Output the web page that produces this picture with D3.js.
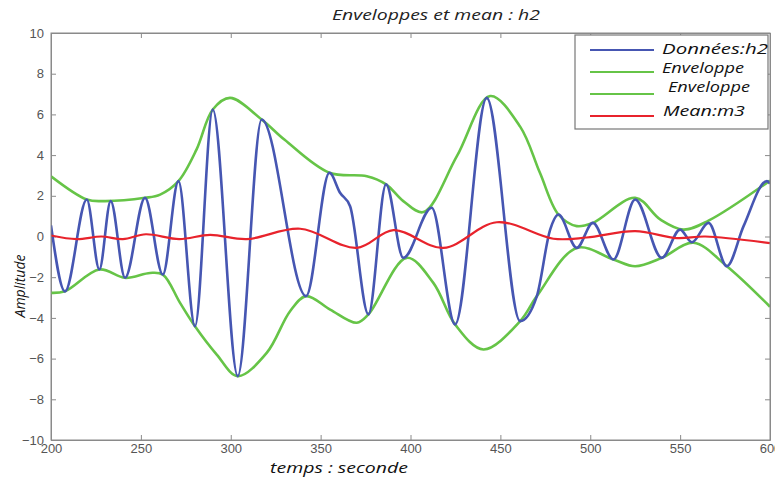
<!DOCTYPE html>
<html><head><meta charset="utf-8">
<script src="https://cdn.jsdelivr.net/npm/d3@7"></script>
<style>
body{margin:0;background:#fff;}
svg{display:block;}
</style></head>
<body>
<svg id="chart" width="775" height="481"></svg>
<script>
// ---- data ----
const dataTime = [200, 207.8, 219.9, 226.9, 233.2, 241.2, 252.3, 262.2, 270.9, 280.1, 290, 303.9, 317.2, 341.9, 354.9, 360.8, 366.4, 376.6, 386.4, 396, 411.8, 424.8, 442.4, 461, 470.3, 477.7, 482.3, 492.5, 501.4, 512.9, 525, 539.8, 550, 556.5, 565.8, 576, 585.3, 598.3, 600];
const dataH2 = [0.55, -2.7, 1.82, -1.62, 1.74, -2.03, 1.9, -1.87, 2.72, -4.41, 6.24, -6.86, 5.75, -2.93, 3.13, 2.15, 1.49, -3.83, 2.56, -1.05, 1.41, -4.32, 6.81, -4.16, -2.93, 0.34, 1.08, -0.56, 0.67, -1.13, 1.82, -1.05, 0.34, -0.28, 0.67, -1.46, 0.51, 2.72, 2.6];

const upperTime = [200, 219.9, 229, 252.3, 260.7, 270.9, 281, 290, 299.6, 317.2, 330, 354.9, 375.7, 386.4, 396, 407.2, 425.8, 444.3, 461, 472, 482.3, 492.5, 501.4, 525, 538.9, 551.9, 565.8, 600];
const upperEnv = [2.96, 1.82, 1.74, 1.9, 2.06, 2.72, 4.28, 6.24, 6.81, 5.75, 4.75, 3.13, 2.96, 2.56, 1.74, 1.2, 3.95, 6.9, 5.4, 3.13, 1.08, 0.51, 0.67, 1.9, 0.84, 0.34, 0.78, 2.75];

const lowerTime = [200, 207.8, 226.9, 241.2, 255.1, 262.2, 271.8, 280.1, 292.2, 303.9, 320, 333, 341.9, 355.3, 370.1, 376.6, 397.9, 412.7, 424.8, 440.6, 461, 470.3, 492.5, 512.9, 525, 539.8, 557.4, 576, 600];
const lowerEnv = [-2.77, -2.69, -1.62, -2.03, -1.79, -1.87, -3.26, -4.41, -5.8, -6.86, -5.72, -3.67, -2.93, -3.59, -4.24, -3.83, -1.05, -2.28, -4.32, -5.55, -4.16, -2.93, -0.56, -1.13, -1.46, -1.05, -0.31, -1.46, -3.45];

const meanTime = [200, 214.3, 228, 240, 252.8, 271.3, 288.5, 308.9, 338.6, 370.1, 390.5, 418.3, 448, 479.5, 498, 525, 548.2, 564, 600];
const meanM3 = [0.05, -0.13, 0, -0.13, 0.11, -0.13, 0.08, -0.13, 0.38, -0.56, 0.31, -0.56, 0.7, -0.11, -0.05, 0.26, -0.08, 0.0, -0.33];

const xTicks = [200, 250, 300, 350, 400, 450, 500, 550, 600];
const yTicks = [-10, -8, -6, -4, -2, 0, 2, 4, 6, 8, 10];
const legendLabels = ["Données:h2", "Enveloppe", " Enveloppe", "Mean:m3"];

// ---- layout ----
const svg = d3.select("#chart");
const L = 51, R = 770, T = 33, B = 440;
const x = d3.scaleLinear().domain([200, 600]).range([L, R]);
const y = d3.scaleLinear().domain([-10, 10]).range([B, T]);

const cBlue = "#4656b2", cGreen = "#66c447", cRed = "#e8232c", cAxis = "#8a8a8a", cTxt = "#555";
const fontIt = "'Open Sans', sans-serif";

svg.append("defs").append("clipPath").attr("id", "clip")
  .append("rect").attr("x", L).attr("y", T).attr("width", R - L).attr("height", B - T);

// axes (MATLAB style, inward ticks on all sides)
const fmt = d => d < 0 ? "\u2212" + Math.abs(d) : String(d);
const axB = svg.append("g").attr("transform", `translate(0,${B})`)
  .call(d3.axisBottom(x).tickValues(xTicks).tickSizeInner(-5).tickSizeOuter(0).tickPadding(6).tickFormat(fmt));
const axT = svg.append("g").attr("transform", `translate(0,${T})`)
  .call(d3.axisTop(x).tickValues(xTicks).tickSizeInner(-5).tickSizeOuter(0).tickFormat(""));
const axL = svg.append("g").attr("transform", `translate(${L},0)`)
  .call(d3.axisLeft(y).tickValues(yTicks).tickSizeInner(-5).tickSizeOuter(0).tickPadding(7).tickFormat(fmt));
const axR = svg.append("g").attr("transform", `translate(${R},0)`)
  .call(d3.axisRight(y).tickValues(yTicks).tickSizeInner(-5).tickSizeOuter(0).tickFormat(""));
[axB, axT, axL, axR].forEach(g => {
  g.selectAll("path,line").attr("stroke", cAxis).attr("stroke-width", 1);
  g.selectAll("text").attr("fill", cTxt).style("font-family", "'Liberation Sans', Arial, sans-serif").style("font-size", "13px");
});
axB.selectAll("text").attr("dy", "0.55em");

// lines
const plot = svg.append("g").attr("clip-path", "url(#clip)");
const mk = (xs, ys) => xs.map((t, i) => [t, ys[i]]);
const lineMono = d3.line().x(d => x(d[0])).y(d => y(d[1])).curve(d3.curveMonotoneX);
const lineSmooth = d3.line().x(d => x(d[0])).y(d => y(d[1])).curve(d3.curveCatmullRom.alpha(0.5));

plot.append("path").attr("d", lineSmooth(mk(upperTime, upperEnv))).attr("fill", "none").attr("stroke", cGreen).attr("stroke-width", 2.6);
plot.append("path").attr("d", lineSmooth(mk(lowerTime, lowerEnv))).attr("fill", "none").attr("stroke", cGreen).attr("stroke-width", 2.6);
plot.append("path").attr("d", lineMono(mk(dataTime, dataH2))).attr("fill", "none").attr("stroke", cBlue).attr("stroke-width", 2.6);
plot.append("path").attr("d", lineSmooth(mk(meanTime, meanM3))).attr("fill", "none").attr("stroke", cRed).attr("stroke-width", 2.2);

// box
svg.append("rect").attr("x", L).attr("y", T).attr("width", R - L).attr("height", B - T)
  .attr("fill", "none").attr("stroke", cAxis).attr("stroke-width", 1);

// legend
const lg = svg.append("g");
lg.append("rect").attr("x", 575).attr("y", 35).attr("width", 193).attr("height", 94)
  .attr("fill", "#fff").attr("stroke", "#777").attr("stroke-width", 1.2);
const legColors = [cBlue, cGreen, cGreen, cRed];
const legLineY = [50, 72, 94, 116];
const legBase = [54, 73, 92, 116];
const legTx = [662, 662, 668, 663];
const legLen = [106, 82, 82, 82];
legendLabels.forEach((lab, i) => {
  lg.append("line").attr("x1", 590).attr("x2", 654).attr("y1", legLineY[i]).attr("y2", legLineY[i])
    .attr("stroke", legColors[i]).attr("stroke-width", 2);
  lg.append("text").attr("x", legTx[i]).attr("y", legBase[i])
    .attr("fill", "#111").style("font-family", fontIt).style("font-style", "italic")
    .style("font-size", "14px").attr("textLength", legLen[i]).attr("lengthAdjust", "spacingAndGlyphs")
    .text(lab.trim());
});

// titles
svg.append("text").attr("x", 332).attr("y", 20)
  .attr("fill", "#222").style("font-family", fontIt).style("font-style", "italic")
  .style("font-size", "14px").attr("textLength", 208).attr("lengthAdjust", "spacingAndGlyphs")
  .text("Enveloppes et mean : h2");
svg.append("text").attr("x", 270).attr("y", 473)
  .attr("fill", "#111").style("font-family", fontIt).style("font-style", "italic")
  .style("font-size", "14px").attr("textLength", 138).attr("lengthAdjust", "spacingAndGlyphs")
  .text("temps : seconde");
svg.append("text").attr("transform", "translate(25,286) rotate(-90)").attr("text-anchor", "middle")
  .attr("fill", "#111").style("font-family", fontIt).style("font-style", "italic")
  .style("font-size", "14px").text("Amplitude");
</script>
</body></html>
